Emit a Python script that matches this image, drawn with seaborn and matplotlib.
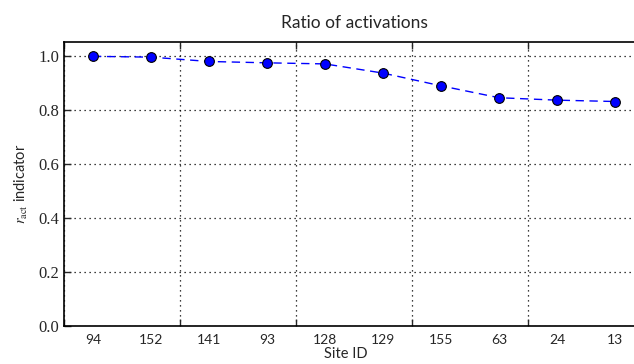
import numpy as np
import pandas as pd
import matplotlib
matplotlib.use("Agg")
import matplotlib.pyplot as plt
import seaborn as sns
from matplotlib.ticker import FixedLocator, NullFormatter, FixedFormatter

site_ids = ["94", "152", "141", "93", "128", "129", "155", "63", "24", "13"]
r_act = [0.997, 0.994, 0.978, 0.973, 0.969, 0.935, 0.888, 0.844, 0.835, 0.830]
y_ticks = [0.0, 0.2, 0.4, 0.6, 0.8, 1.0]

sns.set_style("ticks")
plt.rcParams["font.family"] = ["Lato", "DejaVu Sans"]
plt.rcParams["mathtext.fontset"] = "stix"

df = pd.DataFrame({"pos": np.arange(len(site_ids)), "r": r_act})

fig = plt.figure(figsize=(6.34, 3.64), dpi=100)
ax = fig.add_axes([64 / 634, 38 / 364, 580 / 634, 284 / 364])

sns.lineplot(data=df, x="pos", y="r", ax=ax, color="blue", linestyle="--",
             linewidth=1.0, marker="o", markersize=7, markerfacecolor="blue",
             markeredgecolor="black", markeredgewidth=0.8, dashes=False)
ax.lines[0].set_linestyle((0, (6, 4)))

ax.set_xlim(-0.5, len(site_ids) - 0.5)
ax.set_ylim(0, 1.05)

major = np.arange(-0.5, len(site_ids), 2.0)
ax.xaxis.set_major_locator(FixedLocator(major))
ax.xaxis.set_major_formatter(NullFormatter())
ax.xaxis.set_minor_locator(FixedLocator(np.arange(len(site_ids))))
ax.xaxis.set_minor_formatter(FixedFormatter(site_ids))
ax.tick_params(axis="x", which="minor", length=0, labelsize=10, pad=6)
ax.tick_params(axis="x", which="major", direction="in", length=5, width=1,
               top=True, bottom=True)

ax.set_yticks(y_ticks)
ax.set_yticklabels([f"{v:.1f}" for v in y_ticks],
                   fontfamily="Liberation Serif", fontsize=12)
ax.tick_params(axis="y", direction="in", length=5, width=1, left=True, right=True)

for s in ax.spines.values():
    s.set_visible(True)
    s.set_color("black")
    s.set_linewidth(1.2)

ax.grid(True, which="major", color="black", linestyle=(0, (1, 3)), linewidth=0.9)

ax.set_title("Ratio of activations", fontsize=12.5, pad=10)
ax.set_xlabel("Site ID", fontsize=10.5, va="top")
ax.xaxis.set_label_coords((346 - 64) / 580, -0.075)
ax.set_ylabel(r"$r_{\mathrm{act}}$ indicator", fontsize=10.5, labelpad=6)

fig.savefig("out.png", dpi=100)
